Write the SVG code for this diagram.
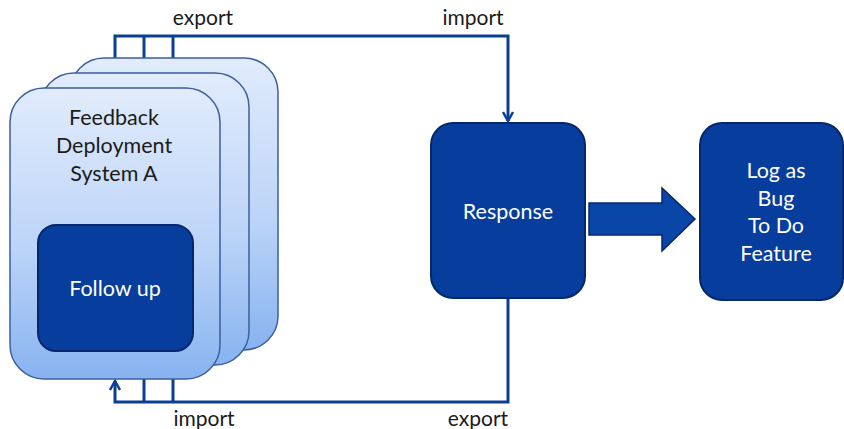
<svg xmlns="http://www.w3.org/2000/svg" width="844" height="429" viewBox="0 0 844 429">
<style>
.card{stroke:#3d5f9c;stroke-width:1.5;fill:url(#cg)}
.dark{fill:#073d9c;stroke:#05286b;stroke-width:2}
.conn{fill:none;stroke:#0b3f96;stroke-width:3}
.wt{font-family:Lato,"Open Sans",sans-serif;font-size:21.5px;fill:#ffffff;text-anchor:middle}
.bt{font-family:Lato,"Open Sans",sans-serif;font-size:21.5px;fill:#1b1b1b;text-anchor:middle}
.lb{font-family:Lato,"Open Sans",sans-serif;font-size:21px;fill:#1b1b1b;text-anchor:middle}
</style>
<defs>
<linearGradient id="cg" x1="0" y1="0" x2="0" y2="1">
<stop offset="0" stop-color="#e1ecfc"/>
<stop offset="0.55" stop-color="#bcd4f8"/>
<stop offset="1" stop-color="#87b3f0"/>
</linearGradient>
<marker id="ah" viewBox="0 0 12 12" refX="10" refY="6" markerWidth="4" markerHeight="4" orient="auto" markerUnits="strokeWidth">
<path d="M1,1 L10,6 L1,11" fill="none" stroke="#0b3f96" stroke-width="2.5"/>
</marker>
</defs>
<g id="connectors">
<path class="conn" d="M115,90 V36 H508 V121" marker-end="url(#ah)"/>
<path class="conn" d="M144,75 V36"/>
<path class="conn" d="M173,60 V36"/>
<path class="conn" d="M508,298 V402 H115 V381" marker-end="url(#ah)"/>
<path class="conn" d="M144,402 V372"/>
<path class="conn" d="M173,402 V372"/>
</g>
<g id="card-back"><rect class="card" x="70" y="58" width="208" height="292" rx="34"/></g>
<g id="card-middle"><rect class="card" x="40" y="73" width="209" height="292" rx="34"/></g>
<g id="feedback-system">
<rect class="card" x="10" y="88" width="210" height="291" rx="34"/>
<text class="bt" x="114" y="125">Feedback</text>
<text class="bt" x="114" y="153">Deployment</text>
<text class="bt" x="114" y="181">System A</text>
</g>
<g id="follow-up">
<rect class="dark" x="38" y="225" width="155" height="126" rx="18"/>
<text class="wt" x="115" y="296">Follow up</text>
</g>
<g id="response">
<rect class="dark" x="431" y="123" width="154" height="175" rx="22"/>
<text class="wt" x="508" y="219">Response</text>
</g>
<g id="big-arrow">
<path d="M589,203 H662 V188 L695,219 L662,251 V235 H589 Z" fill="#0a45a8" stroke="#05286b" stroke-width="1.5"/>
</g>
<g id="log-as">
<rect class="dark" x="700" y="123" width="143" height="177" rx="22"/>
<text class="wt" x="776" y="178">Log as</text>
<text class="wt" x="776" y="206">Bug</text>
<text class="wt" x="776" y="233">To Do</text>
<text class="wt" x="776" y="261">Feature</text>
</g>
<g id="labels">
<text class="lb" x="203" y="25">export</text>
<text class="lb" x="473" y="25">import</text>
<text class="lb" x="204" y="426">import</text>
<text class="lb" x="478" y="426">export</text>
</g>
</svg>
